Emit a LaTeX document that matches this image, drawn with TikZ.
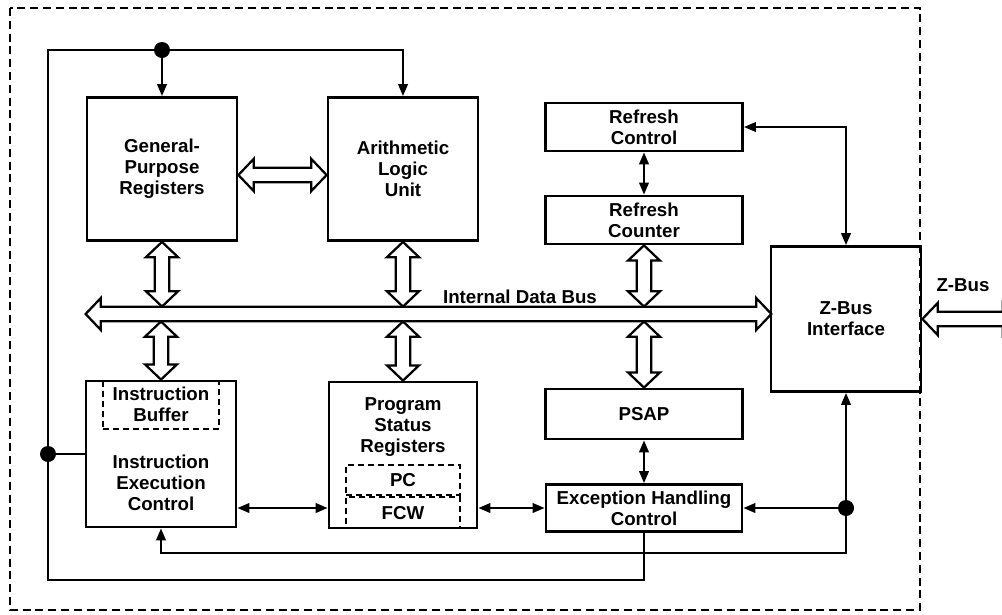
\documentclass[tikz,border=0pt]{standalone}
\usepackage{fontspec}
\setmainfont{Liberation Sans}
\usetikzlibrary{calc,arrows.meta}

\begin{document}
\begin{tikzpicture}[x=0.025cm, y=-0.025cm,
    font=\bfseries\fontsize{13.3}{15}\selectfont,
    block/.style={draw, line width=2pt, align=center, inner sep=0pt},
    inbox/.style={draw, line width=1.5pt, dash pattern=on 0.15cm off 0.1cm, align=center, inner sep=0pt},
    txt/.style={align=center, inner sep=0pt},
    conn/.style={line width=1.5pt},
    tips/.style={{Triangle[length=0.3cm,width=0.24cm]}-{Triangle[length=0.3cm,width=0.24cm]}},
    tipend/.style={-{Triangle[length=0.3cm,width=0.24cm]}},
    dot/.style={circle, fill, inner sep=0pt, minimum size=0.4cm},
    hollow/.style={draw, fill=white, line width=1.6pt, to path={
        let \p1=(\tikztostart), \p2=(\tikztotarget), \n1={atan2(\y2-\y1,\x2-\x1)} in
        -- ($(\p1)+(\n1:0.38cm)+(\n1+90:0.4cm)$)
        -- ($(\p1)+(\n1:0.38cm)+(\n1+90:0.18cm)$)
        -- ($(\p2)+(\n1+180:0.38cm)+(\n1+90:0.18cm)$)
        -- ($(\p2)+(\n1+180:0.38cm)+(\n1+90:0.4cm)$)
        -- (\p2)
        -- ($(\p2)+(\n1+180:0.38cm)+(\n1-90:0.4cm)$)
        -- ($(\p2)+(\n1+180:0.38cm)+(\n1-90:0.18cm)$)
        -- ($(\p1)+(\n1:0.38cm)+(\n1-90:0.18cm)$)
        -- ($(\p1)+(\n1:0.38cm)+(\n1-90:0.4cm)$)
        -- cycle}}]
        \useasboundingbox (0,0) rectangle (1002,614);

        % Dashed chip outline
        \draw[line width=1.6pt, dash pattern=on 0.2cm off 0.12cm] (10,8) rectangle (920,610);

        % Upper blocks
        \node[block, minimum width=3.75cm, minimum height=3.575cm] (gpr) at (162,169) {General-\\Purpose\\Registers};
        \node[block, minimum width=3.75cm, minimum height=3.575cm] (alu) at (403,169) {Arithmetic\\Logic\\Unit};
        \node[block, minimum width=4.925cm, minimum height=1.2cm] (rctl) at (644,127) {Refresh\\Control};
        \node[block, minimum width=4.925cm, minimum height=1.2cm] (rcnt) at (644,220) {Refresh\\Counter};
        \node[block, minimum width=3.75cm, minimum height=3.625cm] (zbus) at (846,319) {Z-Bus\\Interface};

        % Lower blocks
        \node[block, minimum width=3.75cm, minimum height=3.65cm] (iec) at (161,454) {};
        \node[block, minimum width=3.7cm, minimum height=3.65cm] (psr) at (403,455) {};
        \node[block, minimum width=4.925cm, minimum height=1.25cm] (psap) at (644,414) {PSAP};
        \node[block, minimum width=4.9cm, minimum height=1.175cm] (ehc) at (644,508) {Exception Handling\\Control};

        % Parts inside the lower blocks
        \node[inbox, minimum width=2.9cm, minimum height=1.2cm, anchor=north] (ibuf) at (iec.north) {Instruction\\Buffer};
        \node[txt] (ieclabel) at (161,483) {Instruction\\Execution\\Control};
        \node[inbox, minimum width=2.85cm, minimum height=0.775cm, anchor=south] (fcw) at (psr.south) {FCW};
        \node[inbox, minimum width=2.85cm, minimum height=0.75cm, anchor=south] (pc) at (fcw.north) {PC};
        \node[txt] (psrlabel) at (403,427) {Program\\Status\\Registers};

        % Internal data bus
        \node[minimum width=17.125cm, minimum height=0.36cm, inner sep=0pt] (bus) at (428.5,314) {};
        \node (buslabel) at (520,297) {Internal Data Bus};
        \node (zbuslabel) at (963,285) {Z-Bus};
        \coordinate (zout) at (zbus.east -| 1018,0);

        % Wide bus arrows
        \draw[hollow] (bus.west) to (bus.east);
        \draw[hollow] (zbus.east) to (zout);
        \draw[hollow] ([yshift=-0.15cm]gpr.east) to ([yshift=-0.15cm]alu.west);
        \draw[hollow] (gpr.south) to (gpr.south |- bus.north);
        \draw[hollow] (alu.south) to (alu.south |- bus.north);
        \draw[hollow] (rcnt.south) to (rcnt.south |- bus.north);
        \draw[hollow] (iec.north |- bus.south) to (iec.north);
        \draw[hollow] (psr.north |- bus.south) to (psr.north);
        \draw[hollow] (psap.north |- bus.south) to (psap.north);

        % Junction dots
        \node[dot] (jtop) at (gpr.north |- 0,50) {};
        \node[dot] (jleft) at (iec.west -| 48,0) {};
        \node[dot] (jright) at (zbus.south |- ehc.east) {};

        % Control lines
        \draw[conn, tipend] (ehc.south) |- (48,580) |- (alu.north |- 0,50) -- (alu.north);
        \draw[conn, tipend] (jtop) -- (gpr.north);
        \draw[conn] (jleft) -- (iec.west);
        \draw[conn, tips] (iec.south) |- (zbus.south |- 0,553) -- (zbus.south);
        \draw[conn, tipend] (jright) -- (ehc.east);
        \draw[conn, tips] (rctl.east) -| (zbus.north);
        \draw[conn, tips] (rctl.south) -- (rcnt.north);
        \draw[conn, tips] (psap.south) -- (ehc.north);
        \draw[conn, tips] (iec.east |- ehc.west) -- (psr.west |- ehc.west);
        \draw[conn, tips] (psr.east |- ehc.west) -- (ehc.west);
    \end{tikzpicture}
\end{document}
